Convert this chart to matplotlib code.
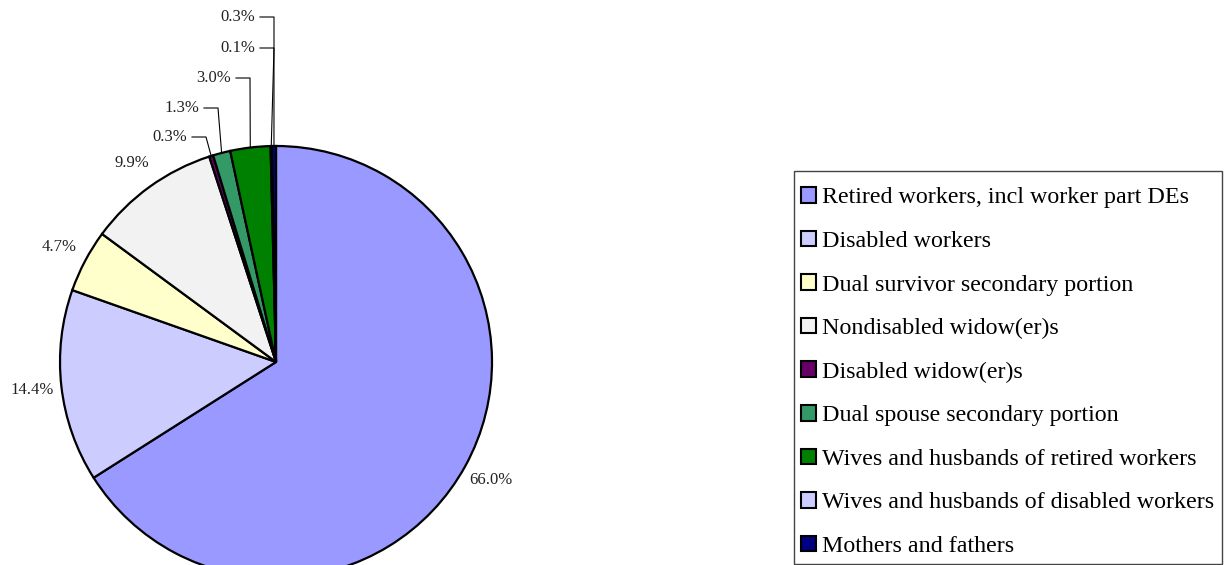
import matplotlib
matplotlib.use("Agg")
import matplotlib.pyplot as plt
from matplotlib.patches import Rectangle
import numpy as np

plt.rcParams['font.family'] = ['Liberation Serif', 'DejaVu Serif']

# data
categories = [
    "Retired workers, incl worker part DEs",
    "Disabled workers",
    "Dual survivor secondary portion",
    "Nondisabled widow(er)s",
    "Disabled widow(er)s",
    "Dual spouse secondary portion",
    "Wives and husbands of retired workers",
    "Wives and husbands of disabled workers",
    "Mothers and fathers",
]
shares = [66.0, 14.4, 4.7, 9.9, 0.3, 1.3, 3.0, 0.1, 0.3]
colors = ["#9999FF", "#CCCCFF", "#FFFFCC", "#F2F2F2", "#660066",
          "#339966", "#008000", "#CCCCFF", "#000080"]

W, H = 1231, 565
cx, cy, R = 276, H - 362, 216

fig = plt.figure(figsize=(W / 100, H / 100), dpi=100)
ax = fig.add_axes([0, 0, 1, 1])

wedges, _ = ax.pie(shares, colors=colors, startangle=90, counterclock=False,
                   center=(cx, cy), radius=R,
                   wedgeprops=dict(edgecolor="black", linewidth=1.6))
ax.set_xlim(0, W)
ax.set_ylim(0, H)
ax.set_aspect("equal")
ax.axis("off")

# big slices get labels just outside the rim, small ones are stacked above with leaders
leader_text = {4: (187, 137), 5: (199, 108), 6: (231, 78), 7: (255, 48), 8: (255, 17)}

for i, w in enumerate(wedges):
    mid = np.deg2rad((w.theta1 + w.theta2) / 2)
    lab = f"{shares[i]:.1f}%"
    if i not in leader_text:
        d = 1.137 * R
        ax.text(cx + d * np.cos(mid), cy + d * np.sin(mid), lab,
                ha="center", va="center", fontsize=12, color="#222222")
    else:
        tx, ty = leader_text[i]
        ty = H - ty
        ax.text(tx, ty, lab, ha="right", va="center", fontsize=12, color="#222222")
        ex, ey = cx + R * np.cos(mid), cy + R * np.sin(mid)
        x0 = tx + 5
        x1 = x0 + 14
        ax.plot([x0, x1, ex], [ty, ty, ey], color="black", linewidth=0.8)

leg = ax.legend(wedges, categories, loc="upper left",
                bbox_to_anchor=(785, H - 171), bbox_transform=ax.transData,
                borderaxespad=0, fontsize=17.3, frameon=False,
                handlelength=0.62, handleheight=0.62, handletextpad=0.25,
                labelspacing=0.93, borderpad=0.67)
for h in leg.legend_handles:
    h.set_edgecolor("black")
    h.set_linewidth(1.5)

# legend box
ax.add_patch(Rectangle((794, H - 564), 1222 - 794, 564 - 171, fill=False,
                       edgecolor="#444444", linewidth=1.0))

fig.savefig("out.png", dpi=100)
